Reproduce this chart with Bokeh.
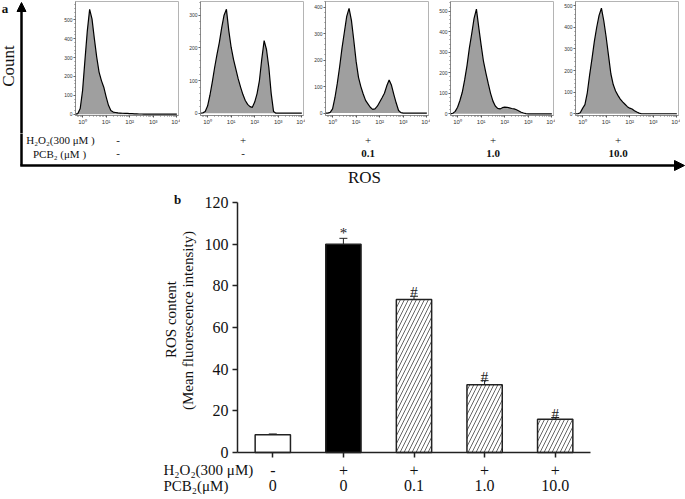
import math
from bokeh.plotting import figure
from bokeh.layouts import column, row
from bokeh.models import (Range1d, FixedTicker, Label, Arrow, NormalHead,
                          Whisker, TeeHead, ColumnDataSource)
from bokeh.embed import file_html
from bokeh.resources import INLINE
from bokeh.core.properties import value

# ---------------- data ----------------
# panel a: flow-cytometry histograms (log10 fluorescence vs count)
log_ros = [-0.3, -0.2, -0.1, 0.0, 0.1, 0.2, 0.3, 0.4, 0.5, 0.6, 0.7, 0.8, 0.9,
           1.0, 1.1, 1.2, 1.3, 1.4, 1.5, 1.6, 1.7, 1.8, 1.9, 2.0, 2.1, 2.2,
           2.3, 2.4, 2.5, 2.6, 2.7, 2.8, 2.9, 3.0, 3.1, 3.2, 3.3, 3.4, 3.5,
           3.6, 3.7, 3.8, 3.9, 4.0]
count_control = [0, 3, 30, 125, 285, 440, 555, 505, 400, 302,
                 223, 178, 143, 92, 47, 19, 11, 9, 7, 6,
                 5, 4, 4, 3, 3, 2, 2, 1, 1, 0,
                 0, 0, 0, 0, 0, 0, 0, 0, 0, 0,
                 0, 0, 0, 0]
count_h2o2 = [0, 1, 5, 22, 55, 95, 140, 180, 217, 262,
              300, 318, 253, 202, 165, 135, 105, 80, 57, 39,
              27, 20, 18, 34, 60, 100, 166, 222, 195, 140,
              60, 5, 0, 0, 0, 0, 0, 0, 0, 0,
              0, 0, 0, 0]
count_pcb_01 = [0, 0, 3, 16, 58, 112, 175, 245, 305, 365,
                395, 350, 275, 195, 135, 100, 72, 48, 35, 22,
                14, 16, 26, 42, 58, 75, 103, 125, 105, 70,
                38, 10, 2, 0, 0, 0, 0, 0, 0, 0,
                0, 0, 0, 0]
count_pcb_1 = [0, 3, 12, 32, 65, 105, 165, 235, 320, 390,
               465, 510, 420, 335, 255, 200, 148, 100, 62, 38,
               27, 24, 30, 33, 32, 29, 26, 24, 20, 14,
               8, 4, 1, 0, 0, 0, 0, 0, 0, 0,
               0, 0, 0, 0]
count_pcb_10 = [0, 0, 5, 25, 42, 97, 180, 255, 335, 400,
                455, 488, 430, 355, 270, 185, 135, 105, 85, 68,
                55, 44, 33, 26, 22, 14, 8, 3, 0, 0,
                0, 0, 0, 0, 0, 0, 0, 0, 0, 0,
                0, 0, 0, 0]
panel_ytop = [500, 300, 400, 500, 500]
panel_h2o2 = ["-", "+", "+", "+", "+"]
panel_pcb = ["-", "-", "0.1", "1.0", "10.0"]
decade_labels = ["10\u2070", "10\u00b9", "10\u00b2", "10\u00b3", "10\u2074"]

# panel b: mean fluorescence intensity
cat_idx = [0, 1, 2, 3, 4]
bar_h2o2 = ["-", "+", "+", "+", "+"]
bar_pcb = ["0", "0", "0.1", "1.0", "10.0"]
ros_mean = [8.5, 100.0, 73.5, 32.5, 16.0]
ros_err = [0.4, 2.8, 1.5, 2.0, 0.8]
sig_marks = ["", "*", "#", "#", "#"]
y_ticks = [0, 20, 40, 60, 80, 100, 120]

# ---------------- layout constants ----------------
SERIF = "Liberation Serif"
SANS = "Liberation Sans"
INK = "#111111"
W_TOTAL = 685
LEFT_W = 55
PANEL_W = 125
PB_L, PB_R, PB_T, PB_B = 20, 2, 1, 18
FRAME_W = PANEL_W - PB_L - PB_R
TOP_H = 133
ANNOT_H = 57
BAR_TOP = TOP_H + ANNOT_H
BAR_HT = 499 - BAR_TOP
panel_yrange = [(-7, 597), (-7, 342), (-9, 421), (-8, 547), (-8, 519)]


def blank_fig(w, h, yr):
    p = figure(width=w, height=h, x_range=Range1d(0, w), y_range=yr,
               x_axis_type=None, y_axis_type=None, min_border=0, frame_align=False,
               toolbar_location=None, output_backend="svg")
    p.outline_line_color = None
    p.grid.visible = False
    return p


# left strip: "a", Count, vertical arrow
left_fig = blank_fig(LEFT_W, TOP_H, Range1d(TOP_H, 0))
left_fig.add_layout(Arrow(end=NormalHead(size=9, fill_color="black", line_color="black", line_width=1),
                          x_start=21, y_start=TOP_H + 1, x_end=21, y_end=2,
                          line_width=2.5, line_color="black"))
left_fig.add_layout(Label(x=7.5, y=65.5, text="Count", angle=math.pi / 2,
                          text_align="center", text_baseline="middle",
                          text_font=SERIF, text_font_size="17px", text_color=INK))
left_fig.add_layout(Label(x=4.5, y=7.5, text="a", text_align="center", text_baseline="middle",
                          text_font=SERIF, text_font_style="bold", text_font_size="13px",
                          text_color=INK))

# histogram panels
minor_x = [d + math.log10(k) for d in range(-1, 4) for k in range(2, 10)]
hists = []
for counts, ytop, (ylo, yhi) in zip(
        [count_control, count_h2o2, count_pcb_01, count_pcb_1, count_pcb_10],
        panel_ytop, panel_yrange):
    p = figure(width=PANEL_W, height=TOP_H, x_range=Range1d(-0.3, 4.07),
               y_range=Range1d(ylo, yhi), min_border_left=PB_L, min_border_right=PB_R,
               min_border_top=PB_T, min_border_bottom=PB_B, frame_align=False,
               toolbar_location=None, output_backend="svg")
    p.grid.visible = False
    p.outline_line_color = "#b4b4b4"
    p.varea(x=log_ros, y1=0, y2=counts, fill_color="#9f9f9f")
    p.line(x=log_ros, y=counts, line_color="black", line_width=1.2)
    p.xaxis.ticker = FixedTicker(ticks=[0, 1, 2, 3, 4], minor_ticks=minor_x)
    p.xaxis.major_label_overrides = {i: decade_labels[i] for i in range(5)}
    p.yaxis.ticker = FixedTicker(ticks=list(range(0, ytop + 1, 100)),
                                 minor_ticks=list(range(0, yhi, 20)))
    for ax in (p.xaxis[0], p.yaxis[0]):
        ax.axis_line_color = "#8a8a8a"
        ax.major_tick_line_color = "#555"
        ax.minor_tick_line_color = "#777"
        ax.major_tick_out = 2
        ax.major_tick_in = 0
        ax.minor_tick_out = 1
        ax.minor_tick_in = 0
        ax.major_label_standoff = 1
        ax.major_label_text_font = SANS
        ax.major_label_text_color = "#333"
    p.xaxis.major_label_text_font_size = "6px"
    p.yaxis.major_label_text_font_size = "5px"
    hists.append(p)

# annotation strip below histograms
annot = blank_fig(W_TOTAL, ANNOT_H, Range1d(BAR_TOP, TOP_H))
annot.add_layout(Arrow(end=None, x_start=21, y_start=TOP_H - 1, x_end=21, y_end=165,
                       line_width=2.5, line_color="black"))
annot.add_layout(Arrow(end=NormalHead(size=10, fill_color="black", line_color="black", line_width=1),
                       x_start=19.75, y_start=165, x_end=684, y_end=165,
                       line_width=2.5, line_color="black"))
annot.add_layout(Label(x=60, y=139.5, text="H\u2082O\u2082(300 \u03bcM )", text_align="center",
                       text_baseline="middle", text_font=SERIF, text_font_size="11px",
                       text_color=INK))
annot.add_layout(Label(x=59, y=153, text="PCB\u2082 (\u03bcM )", text_align="center",
                       text_baseline="middle", text_font=SERIF, text_font_size="11px",
                       text_color=INK))
for k in range(5):
    cx = LEFT_W + PB_L + k * PANEL_W + FRAME_W / 2 - 9
    annot.add_layout(Label(x=cx, y=139.5, text=panel_h2o2[k], text_align="center",
                           text_baseline="middle", text_font=SERIF, text_font_size="11px",
                           text_color=INK))
    annot.add_layout(Label(x=cx, y=153, text=panel_pcb[k], text_align="center",
                           text_baseline="middle", text_font=SERIF, text_font_size="11px",
                           text_font_style="bold" if k >= 2 else "normal", text_color=INK))
annot.add_layout(Label(x=364, y=177, text="ROS", text_align="center", text_baseline="middle",
                       text_font=SERIF, text_font_size="17px", text_color=INK))

# ---------------- bar chart (b) ----------------
# frame covers the whole figure; axes are pinned with fixed_location
AX_X = 237          # page x of the y axis
AX_Y = 452          # page y of the x axis
PX_X = 353 / 5      # pixels per category
PX_Y = 250 / 120    # pixels per unit


def bx(px):
    return -0.5 + (px - AX_X) / PX_X


def by(py):
    return (AX_Y - py) / PX_Y


bar = figure(width=W_TOTAL, height=BAR_HT,
             x_range=Range1d(bx(0), bx(W_TOTAL)), y_range=Range1d(by(499), by(BAR_TOP)),
             min_border=0, frame_align=False, toolbar_location=None, output_backend="svg")
bar.grid.visible = False
bar.outline_line_color = None

src = ColumnDataSource(dict(
    x=cat_idx, top=ros_mean,
    upper=[m + e for m, e in zip(ros_mean, ros_err)],
    lower=[m - e for m, e in zip(ros_mean, ros_err)],
    fill=["white", "black", "white", "white", "white"],
    hatch=[" ", " ", "/", "/", "/"],
    mark=sig_marks,
    moff=[-5 if m == "*" else -4 for m in sig_marks],
))
bar.vbar(x="x", top="top", bottom=0, width=0.5, source=src, fill_color="fill",
         line_color="#222", line_width=1.5, hatch_pattern="hatch", hatch_color="#555",
         hatch_weight=0.9, hatch_scale=8)
bar.add_layout(Whisker(source=src, base="x", upper="upper", lower="lower",
                       line_color="#222", line_width=1,
                       upper_head=TeeHead(size=8, line_color="#222", line_width=1),
                       lower_head=TeeHead(size=8, line_color="#222", line_width=1)))
bar.text(x="x", y="upper", text="mark", source=src, text_align="center",
         text_baseline="alphabetic", y_offset="moff", text_font=value(SERIF),
         text_font_size="15px", text_color="#222")

yax = bar.yaxis[0]
yax.ticker = FixedTicker(ticks=y_ticks)
yax.fixed_location = -0.5
yax.bounds = (0, 120)
xax = bar.xaxis[0]
xax.ticker = FixedTicker(ticks=cat_idx)
xax.major_label_overrides = {i: bar_h2o2[i] for i in cat_idx}
xax.fixed_location = 0
xax.bounds = (-0.5, 4.5)
for ax in (xax, yax):
    ax.axis_line_color = "#222"
    ax.axis_line_width = 1.5
    ax.major_tick_line_color = "#222"
    ax.major_tick_line_width = 1.5
    ax.major_tick_out = 5
    ax.major_tick_in = 0
    ax.minor_tick_line_color = None
    ax.major_label_text_font = SERIF
    ax.major_label_text_font_size = "16px"
    ax.major_label_text_color = INK
yax.major_label_standoff = 4
xax.major_label_standoff = 7

# second row of treatment labels under the categories
bar.text(x=cat_idx, y=0, text=bar_pcb, y_offset=33, text_align="center",
         text_baseline="middle", text_font=value(SERIF), text_font_size="16px",
         text_color=INK)

# axis titles and row titles
bar.add_layout(Label(x=bx(170), y=by(319), text="ROS content", angle=math.pi / 2,
                     text_align="center", text_baseline="middle", text_font=SERIF,
                     text_font_size="15px", text_color=INK))
bar.add_layout(Label(x=bx(187), y=by(320), text="(Mean fluorescence intensity)",
                     angle=math.pi / 2, text_align="center", text_baseline="middle",
                     text_font=SERIF, text_font_size="15px", text_color=INK))
bar.add_layout(Label(x=bx(163), y=by(469), text="H\u2082O\u2082(300 \u03bcM)", text_align="left",
                     text_baseline="middle", text_font=SERIF, text_font_size="15px",
                     text_color=INK))
bar.add_layout(Label(x=bx(163), y=by(485), text="PCB\u2082(\u03bcM)", text_align="left",
                     text_baseline="middle", text_font=SERIF, text_font_size="15px",
                     text_color=INK))
bar.add_layout(Label(x=bx(177), y=by(198.5), text="b", text_align="center", text_baseline="middle",
                     text_font=SERIF, text_font_style="bold", text_font_size="13px",
                     text_color=INK))

layout = column(row(left_fig, *hists), annot, bar)
open("out.html", "w").write(file_html(layout, INLINE))
